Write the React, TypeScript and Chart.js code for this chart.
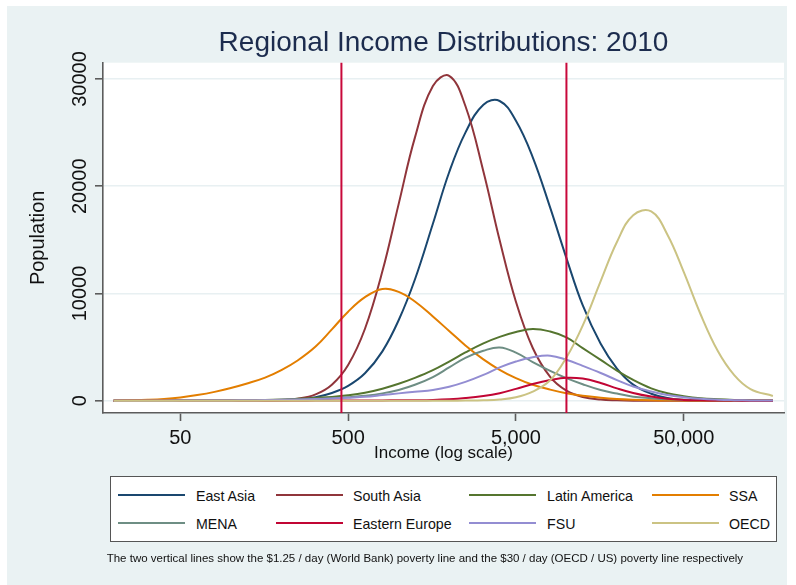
import React, { useEffect, useRef } from 'react';
import { Chart, registerables } from 'chart.js';

Chart.register(...registerables);

const FONT = '"Liberation Sans", Arial, Helvetica, sans-serif';

// Income grid (x values, annual $, log scale)
const incomes = [20, 25, 32, 40, 50, 63, 80, 100, 125, 160, 200, 250, 320, 400, 500, 630, 800, 1000, 1250, 1600, 2000, 2500, 3200, 4000, 5000, 6300, 8000, 10000, 12500, 16000, 20000, 25000, 32000, 40000, 50000, 63000, 80000, 100000, 125000, 170000];

const eastAsia = [0, 0, 0, 0, 0, 0, 0, 0, 5, 15, 40, 110, 330, 720, 1380, 2550, 4600, 7500, 11300, 16500, 21300, 25000, 27600, 27950, 26100, 22700, 18000, 13300, 8900, 5300, 3000, 1500, 650, 240, 80, 30, 10, 0, 0, 0];
const southAsia = [0, 0, 0, 0, 0, 0, 0, 0, 0, 15, 55, 180, 590, 1490, 3330, 6710, 12060, 18330, 24530, 29340, 30300, 27480, 21380, 14960, 9230, 4910, 2220, 930, 340, 100, 30, 0, 0, 0, 0, 0, 0, 0, 0, 0];
const latinAmerica = [0, 0, 0, 0, 5, 10, 15, 25, 40, 60, 100, 170, 260, 350, 500, 740, 1120, 1580, 2130, 2850, 3650, 4500, 5350, 5950, 6400, 6690, 6450, 5900, 4900, 3800, 2800, 1930, 1150, 690, 420, 230, 130, 70, 35, 10];
const ssa = [0, 30, 80, 160, 300, 520, 820, 1180, 1600, 2150, 2850, 3750, 5050, 6650, 8300, 9650, 10420, 10150, 9250, 7850, 6500, 5150, 3850, 2880, 2100, 1480, 1030, 690, 450, 270, 150, 80, 35, 15, 5, 0, 0, 0, 0, 0];
const mena = [0, 0, 0, 0, 0, 5, 10, 15, 20, 30, 45, 75, 130, 215, 320, 460, 680, 1000, 1480, 2200, 3100, 4000, 4650, 4960, 4480, 3600, 2780, 2100, 1530, 990, 660, 370, 230, 130, 70, 40, 20, 10, 5, 0];
const easternEurope = [0, 0, 0, 0, 0, 0, 0, 0, 0, 0, 0, 0, 5, 8, 12, 18, 25, 35, 45, 70, 130, 240, 430, 700, 1100, 1550, 1920, 2140, 2060, 1650, 1150, 720, 380, 170, 70, 30, 10, 5, 0, 0];
const fsu = [0, 0, 0, 0, 5, 10, 15, 25, 40, 60, 85, 115, 160, 210, 280, 360, 520, 680, 830, 1000, 1300, 1750, 2400, 3100, 3650, 4050, 4200, 3820, 3250, 2580, 1920, 1320, 860, 530, 320, 170, 90, 50, 25, 10];
const oecd = [0, 0, 0, 0, 0, 0, 0, 0, 0, 0, 0, 0, 0, 0, 0, 0, 0, 0, 0, 0, 0, 7, 31, 104, 310, 840, 1900, 4020, 7000, 11150, 14800, 17300, 17650, 15480, 12010, 8060, 4600, 2380, 1080, 440];

const seriesNames = ['East Asia', 'South Asia', 'Latin America', 'SSA', 'MENA', 'Eastern Europe', 'FSU', 'OECD'];
const seriesValues = [eastAsia, southAsia, latinAmerica, ssa, mena, easternEurope, fsu, oecd];
const seriesColors = ['#1a476f', '#90353b', '#55752f', '#e37e00', '#6e8e84', '#c10534', '#938dd2', '#cbc383'];

// Poverty lines: $1.25/day and $30/day (annual)
const povertyLines = [456, 10000];

const xTicks = [50, 500, 5000, 50000];
const xTickLabels = ['50', '500', '5,000', '50,000'];
const yTicks = [0, 10000, 20000, 30000];
const yTickLabels = ['0', '10000', '20000', '30000'];

const titleText = 'Regional Income Distributions: 2010';
const xTitle = 'Income (log scale)';
const yTitle = 'Population';
const footnote = 'The two vertical lines show the $1.25 / day (World Bank) poverty line and the $30 / day (OECD / US) poverty line respectively';

export default function App() {
  const ref = useRef<HTMLCanvasElement>(null);

  useEffect(() => {
    const canvas = ref.current;
    if (!canvas) return;
    const axisColor = '#5c5c5c';
    const datasets = seriesValues.map((vals, i) => ({
      label: seriesNames[i],
      data: incomes.map((x, j) => ({ x, y: vals[j] })),
      borderColor: seriesColors[i],
      backgroundColor: seriesColors[i],
      borderWidth: 2,
      pointRadius: 0,
      fill: false,
      tension: 0.4,
      order: seriesValues.length - i,
    }));

    const plotBg = {
      id: 'plotBg',
      beforeDraw(chart: any) {
        const { ctx, chartArea: a } = chart;
        ctx.save();
        ctx.fillStyle = '#ffffff';
        ctx.fillRect(a.left, a.top, a.right - a.left, a.bottom - a.top);
        ctx.restore();
      },
    };
    const vlines = {
      id: 'vlines',
      afterDatasetsDraw(chart: any) {
        const { ctx, chartArea: a, scales } = chart;
        ctx.save();
        ctx.strokeStyle = '#c8083a';
        ctx.lineWidth = 2;
        povertyLines.forEach((v) => {
          const px = scales.x.getPixelForValue(v);
          ctx.beginPath();
          ctx.moveTo(px, a.top);
          ctx.lineTo(px, a.bottom);
          ctx.stroke();
        });
        ctx.restore();
      },
    };

    const chart = new Chart(canvas, {
      type: 'line',
      data: { datasets: datasets as any },
      options: {
        responsive: false,
        animation: false,
        devicePixelRatio: 1,
        layout: { padding: { left: 0, right: 12, top: 0, bottom: 112 } },
        plugins: {
          legend: { display: false },
          tooltip: { enabled: false },
          title: {
            display: true,
            text: titleText,
            fullSize: false,
            color: '#1c2c4e',
            font: { family: FONT, size: 28, weight: 'normal', lineHeight: 1.2 },
            padding: { top: 26.5, bottom: 2.6 },
          },
        },
        scales: {
          x: {
            type: 'logarithmic',
            position: 'bottom',
            min: 17.3,
            max: 198000,
            bounds: 'data',
            afterBuildTicks: (s: any) => {
              s.ticks = xTicks.map((v) => ({ value: v }));
            },
            afterFit: (s: any) => {
              s.height = 60;
            },
            ticks: {
              autoSkip: false,
              maxRotation: 0,
              minRotation: 0,
              padding: 5.4,
              color: '#111',
              font: { family: FONT, size: 20 },
              callback: (_v: any, i: number) => xTickLabels[i],
            },
            grid: {
              display: true,
              drawOnChartArea: false,
              drawTicks: true,
              tickLength: 8,
              tickColor: axisColor,
              tickWidth: 1.6,
            },
            border: { display: true, color: axisColor, width: 1.6 },
            title: {
              display: true,
              text: xTitle,
              color: '#111',
              font: { family: FONT, size: 17, lineHeight: 1.2 },
              padding: { top: 0, bottom: 9.3 },
            },
          } as any,
          y: {
            type: 'linear',
            min: -1150,
            max: 31520,
            bounds: 'data',
            afterBuildTicks: (s: any) => {
              s.ticks = yTicks.map((v) => ({ value: v }));
            },
            afterFit: (s: any) => {
              s.width = 103;
            },
            ticks: {
              autoSkip: false,
              minRotation: 90,
              maxRotation: 90,
              crossAlign: 'center',
              padding: -13.3,
              color: '#111',
              font: { family: FONT, size: 20 },
              callback: (_v: any, i: number) => yTickLabels[i],
            },
            grid: {
              display: true,
              drawOnChartArea: true,
              color: '#e8f0f2',
              lineWidth: 1.6,
              drawTicks: true,
              tickLength: 8,
              tickColor: axisColor,
              tickWidth: 1.6,
            },
            border: { display: true, color: axisColor, width: 1.6 },
            title: {
              display: true,
              text: yTitle,
              color: '#111',
              font: { family: FONT, size: 20, lineHeight: 1.2 },
              padding: { top: 26.3, bottom: 0 },
            },
          } as any,
        },
      } as any,
      plugins: [plotBg, vlines],
    });
    return () => chart.destroy();
  }, []);

  const sampleX = [118, 276, 469, 652];
  const textX = [196, 353, 547, 729];
  const lineY = [495, 522.5];
  const textTop = [486, 514];

  return (
    <div style={{ position: 'absolute', left: 0, top: 0, width: 796, height: 585, background: '#ffffff', overflow: 'hidden', fontFamily: FONT }}>
      <div style={{ position: 'absolute', left: 7, top: 6, width: 780, height: 579, background: '#eaf2f3' }} />
      <canvas ref={ref} width={796} height={585} style={{ position: 'absolute', left: 0, top: 0, width: 796, height: 585 }} />
      <div style={{ position: 'absolute', left: 110, top: 476, width: 667, height: 66, boxSizing: 'border-box', border: '1.5px solid #555', background: '#ffffff' }} />
      {seriesNames.map((name, i) => {
        const row = Math.floor(i / 4);
        const col = i % 4;
        return (
          <React.Fragment key={name}>
            <div style={{ position: 'absolute', left: sampleX[col], top: lineY[row] - 1, width: 67, height: 2, background: seriesColors[i] }} />
            <div style={{ position: 'absolute', left: textX[col], top: textTop[row], fontSize: 14.2, lineHeight: '20px', whiteSpace: 'nowrap', color: '#111' }}>{name}</div>
          </React.Fragment>
        );
      })}
      <div style={{ position: 'absolute', left: 106.7, top: 551, fontSize: 11.5, lineHeight: '14px', whiteSpace: 'nowrap', color: '#111' }}>{footnote}</div>
    </div>
  );
}
